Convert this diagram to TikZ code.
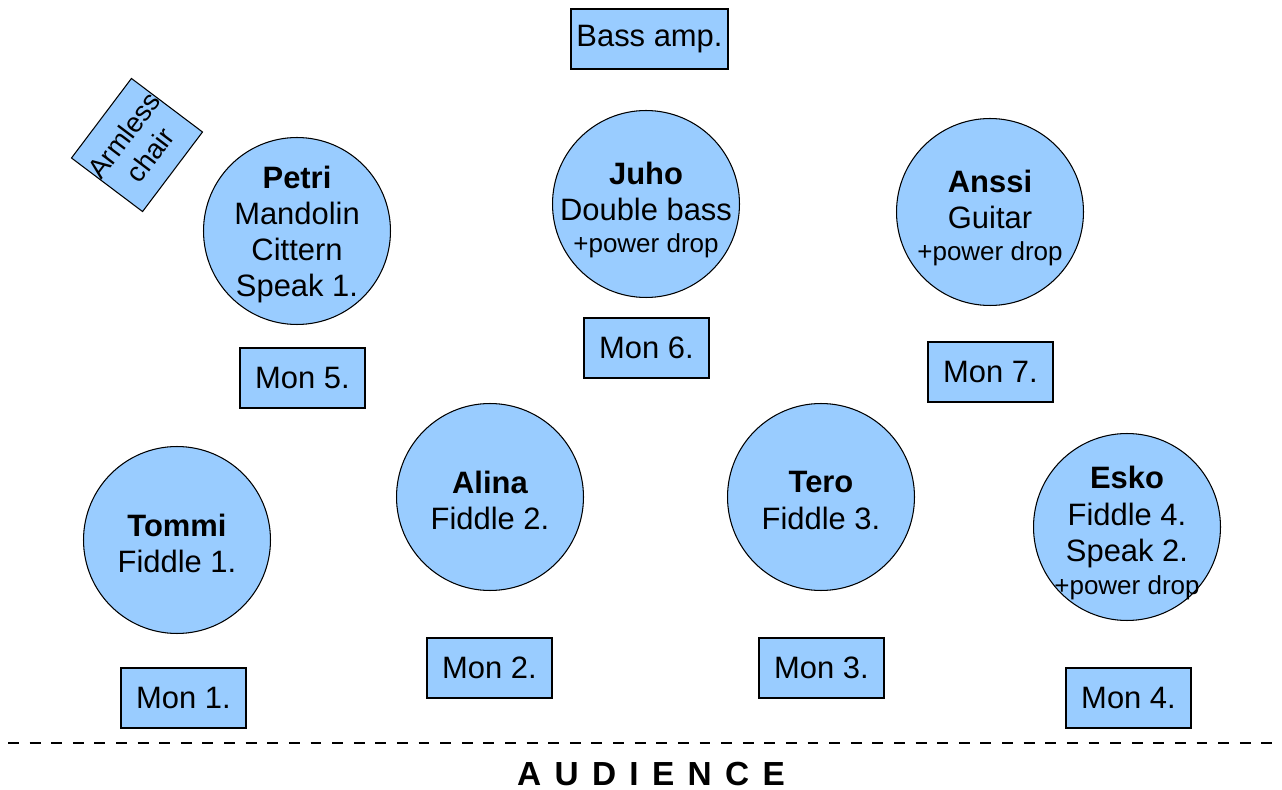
\documentclass[tikz,border=0pt]{standalone}
\usepackage{fontspec}
\setmainfont{Liberation Sans}
\usepackage{xcolor}
\usepackage{tikz}
\usetikzlibrary{positioning}

\definecolor{stageblue}{HTML}{99CCFF}
\newcommand{\powerdrop}{{\fontsize{14.8}{18}\selectfont +power drop}}

\begin{document}
\begin{tikzpicture}[x=0.02cm, y=-0.02cm,
    player/.style={circle, draw, line width=0.6pt, fill=stageblue, inner sep=0pt, minimum size=3.74cm},
    who/.style={align=center, inner sep=0pt, yshift=-0.07cm, font=\fontsize{17.6}{20.6}\selectfont},
    whodrop/.style={who, yshift=-0.05cm},
    monitor/.style={rectangle, draw, line width=0.6pt, fill=stageblue, inner sep=0pt, minimum width=2.5cm, minimum height=1.2cm, font=\fontsize{17.6}{20.4}\selectfont}]
    \useasboundingbox (0,0) rectangle (1282,790);

    \node[monitor, minimum width=3.14cm] (bassamp) at (649.5,39) {Bass amp.};
    \node[monitor, minimum width=1.78cm, minimum height=1.78cm, rotate=53, align=center, font=\fontsize{15.7}{18.5}\selectfont] (chair) at (137,145) {Armless\\chair};

    % Back row
    \node[player, label={[who]center:{\textbf{Petri}\\Mandolin\\Cittern\\Speak 1.}}] (petri) at (297,231) {};
    \node[player, label={[whodrop]center:{\textbf{Juho}\\Double bass\\[-2pt]\powerdrop}}] (juho) at (646,204) {};
    \node[player, label={[whodrop]center:{\textbf{Anssi}\\Guitar\\[-2pt]\powerdrop}}] (anssi) at (990,212) {};
    \node[monitor] (mon5) at (302.5,378) {Mon 5.};
    \node[monitor] (mon6) at (646.5,348) {Mon 6.};
    \node[monitor] (mon7) at (990.5,372) {Mon 7.};

    % Front row
    \node[player, label={[who]center:{\textbf{Tommi}\\Fiddle 1.}}] (tommi) at (177,540) {};
    \node[player, label={[who]center:{\textbf{Alina}\\Fiddle 2.}}] (alina) at (490,497) {};
    \node[player, label={[who]center:{\textbf{Tero}\\Fiddle 3.}}] (tero) at (821,497) {};
    \node[player, label={[whodrop]center:{\textbf{Esko}\\Fiddle 4.\\Speak 2.\\[-2pt]\powerdrop}}] (esko) at (1127,527) {};
    \node[monitor] (mon1) at (183.5,698) {Mon 1.};
    \node[monitor] (mon2) at (489.5,668) {Mon 2.};
    \node[monitor] (mon3) at (821.5,668) {Mon 3.};
    \node[monitor] (mon4) at (1128.5,698) {Mon 4.};

    % Stage edge
    \coordinate (edgeL) at (8,743);
    \coordinate (edgeR) at (1282,743);
    \draw[line width=1.7pt, dash pattern=on 6.2pt off 6.1pt] (edgeL) -- (edgeR);
    \node[font=\fontsize{19}{22}\selectfont\bfseries] (audience) at (651,774) {\spaceskip=7.6pt\relax A U D I E N C E};
\end{tikzpicture}
\end{document}
